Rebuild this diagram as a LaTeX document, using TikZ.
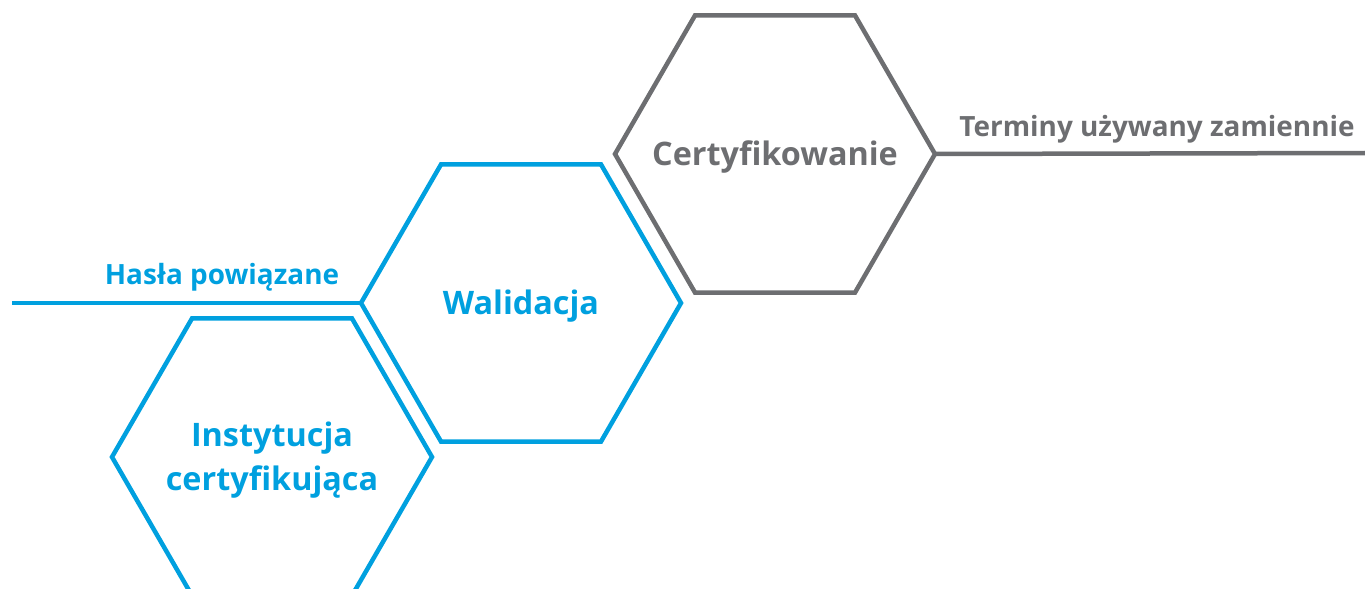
\documentclass[tikz,border=0pt]{standalone}
\usepackage{fontspec}
\setmainfont{Open Sans}
\usetikzlibrary{shapes.geometric}
\definecolor{hexblue}{RGB}{0,160,223}
\definecolor{hexgray}{RGB}{109,110,113}

\begin{document}
\begin{tikzpicture}[x=1bp, y=-1bp,
	hex/.style={regular polygon, regular polygon sides=6, minimum size=320bp, inner sep=0pt, outer sep=0pt, line width=4.5bp},
	hextext/.style={align=center, yshift=-3bp, font=\bfseries\fontsize{32.5}{44}\selectfont},
	side/.style={font=\bfseries\fontsize{28}{34}\selectfont}]
	\useasboundingbox (0,0) rectangle (1365,589);
	\clip (0,0) rectangle (1365,589);
	% hexagons
	\node[hex, draw=hexgray] (cert) at (775,154) {};
	\node[hex, draw=hexblue] (wal) at (521,303) {};
	\node[hex, draw=hexblue] (inst) at (272,457) {};
	\node[hextext, text=hexgray] (certtext) at (cert.center) {Certyfikowanie};
	\node[hextext, text=hexblue] (waltext) at (wal.center) {Walidacja};
	\node[hextext, text=hexblue] (insttext) at (inst.center) {Instytucja\\certyfikująca};
	% side lines
	\coordinate (rend) at (1365,153);
	\coordinate (lend) at (12,303);
	\draw[line width=4.5bp, hexgray] (cert.east) -- (rend);
	\draw[line width=4.5bp, hexblue] (lend) -- (wal.west);
	\node[side, text=hexgray] (terms) at (1157,129) {Terminy używany zamiennie};
	\node[side, text=hexblue] (related) at (222,277) {Hasła powiązane};
\end{tikzpicture}
\end{document}
